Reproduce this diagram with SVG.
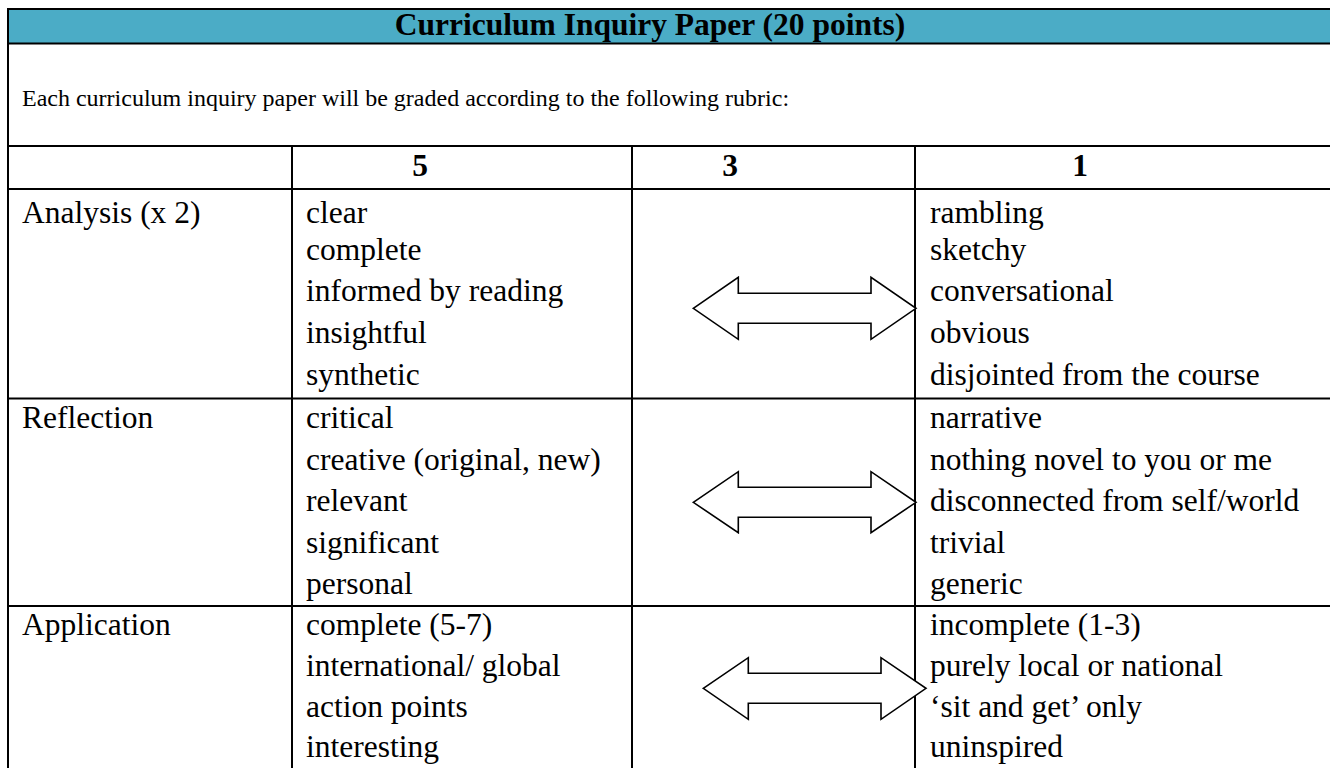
<svg xmlns="http://www.w3.org/2000/svg" width="1330" height="768" viewBox="0 0 1330 768">
<style>
.t{font-family:"Liberation Serif","Times New Roman",serif;font-size:31.5px;fill:#000}
.b{font-weight:bold}
.s{font-size:24px}
.g{stroke:#000;stroke-width:2;fill:none}
.arr{fill:#fff;stroke:#000;stroke-width:1.6;stroke-linejoin:miter}
</style>
<rect x="0" y="0" width="1330" height="768" fill="#fff"/>
<g id="header">
<rect x="8" y="9" width="1322" height="34.5" fill="#4BACC6"/>
<text class="t b" x="650" y="35" text-anchor="middle">Curriculum Inquiry Paper (20 points)</text>
</g>
<g id="intro">
<text class="t s" x="22" y="106">Each curriculum inquiry paper will be graded according to the following rubric:</text>
</g>
<g id="grid" class="g">
<line x1="7" y1="9" x2="1330" y2="9"/>
<line x1="7" y1="43.5" x2="1330" y2="43.5"/>
<line x1="7" y1="146" x2="1330" y2="146"/>
<line x1="7" y1="189" x2="1330" y2="189"/>
<line x1="7" y1="398.5" x2="1330" y2="398.5"/>
<line x1="7" y1="606" x2="1330" y2="606"/>
<line x1="8" y1="8" x2="8" y2="768"/>
<line x1="292" y1="146" x2="292" y2="768"/>
<line x1="632" y1="146" x2="632" y2="768"/>
<line x1="915" y1="146" x2="915" y2="768"/>
</g>
<g id="scores">
<text class="t b" x="420" y="176" text-anchor="middle">5</text>
<text class="t b" x="730" y="176" text-anchor="middle">3</text>
<text class="t b" x="1080" y="176" text-anchor="middle">1</text>
</g>
<g id="analysis">
<text class="t" x="22" y="223">Analysis (x 2)</text>
<text class="t" x="306" y="223">clear</text>
<text class="t" x="306" y="259.7">complete</text>
<text class="t" x="306" y="301.4">informed by reading</text>
<text class="t" x="306" y="343">insightful</text>
<text class="t" x="306" y="385">synthetic</text>
<text class="t" x="930" y="223">rambling</text>
<text class="t" x="930" y="259.7">sketchy</text>
<text class="t" x="930" y="301.4">conversational</text>
<text class="t" x="930" y="343">obvious</text>
<text class="t" x="930" y="385">disjointed from the course</text>
</g>
<g id="reflection">
<text class="t" x="22" y="428">Reflection</text>
<text class="t" x="306" y="428">critical</text>
<text class="t" x="306" y="469.5">creative (original, new)</text>
<text class="t" x="306" y="511">relevant</text>
<text class="t" x="306" y="552.5">significant</text>
<text class="t" x="306" y="594">personal</text>
<text class="t" x="930" y="428">narrative</text>
<text class="t" x="930" y="469.5">nothing novel to you or me</text>
<text class="t" x="930" y="511">disconnected from self/world</text>
<text class="t" x="930" y="552.5">trivial</text>
<text class="t" x="930" y="594">generic</text>
</g>
<g id="application">
<text class="t" x="22" y="635">Application</text>
<text class="t" x="306" y="635">complete (5-7)</text>
<text class="t" x="306" y="676">international/ global</text>
<text class="t" x="306" y="716.5">action points</text>
<text class="t" x="306" y="757">interesting</text>
<text class="t" x="930" y="635">incomplete (1-3)</text>
<text class="t" x="930" y="676">purely local or national</text>
<text class="t" x="930" y="716.5">‘sit and get’ only</text>
<text class="t" x="930" y="757">uninspired</text>
</g>
<g id="connectors">
<polygon class="arr" points="693.3,308.3 738.3,277.3 738.3,293.3 871,293.3 871,277.3 916,308.3 871,339.3 871,323.3 738.3,323.3 738.3,339.3"/>
<polygon class="arr" points="693.3,502.3 738.3,471.7 738.3,487.3 871,487.3 871,471.7 916,502.3 871,532.7 871,517.3 738.3,517.3 738.3,532.7"/>
<polygon class="arr" points="703.3,688.3 748.3,657.7 748.3,673.3 881,673.3 881,657.7 926,688.3 881,719.3 881,703.3 748.3,703.3 748.3,719.3"/>
</g>
</svg>
